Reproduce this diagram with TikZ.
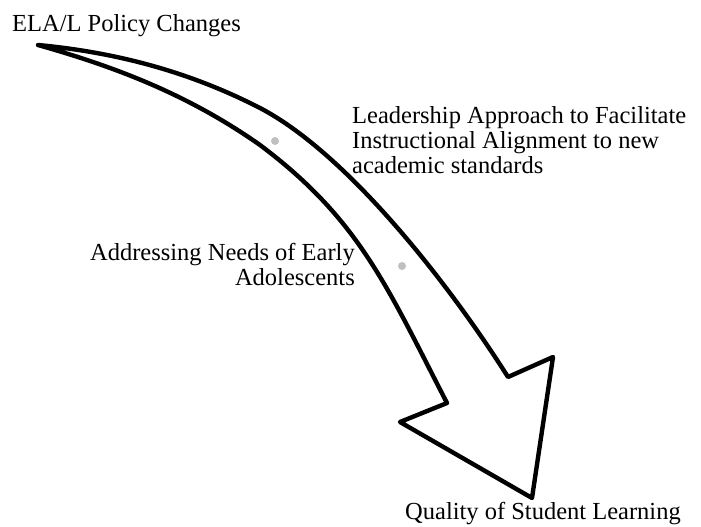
\documentclass[tikz,border=0pt]{standalone}
\usepackage{fontspec}
\setmainfont{Liberation Serif}

\tikzset{
  lbl/.style={inner sep=0pt, font=\fontsize{24.5}{25}\selectfont},
  knob/.style={fill=black!25, draw=none},
}

\begin{document}
\begin{tikzpicture}[x=1pt,y=-1pt]
  \useasboundingbox (0,0) rectangle (701,527);
  % bent arrow
  \draw [black, line width=4.4pt, line join=round, line cap=round, fill=white]
    (38,45) .. controls +(74,7) and +(-74,-38) .. (260,108)
            .. controls +(90,47) and +(-55,-87) .. (508,377)
    -- (553,357) -- (532,498) -- (400,422) -- (447,403)
            .. controls +(-60,-116) and +(100,75) .. (260,145)
            .. controls +(-74,-52) and +(74,21) .. (38,45) -- cycle;
  \fill [knob] (275,141) circle [radius=4];
  \fill [knob] (402,266) circle [radius=4];
  % labels
  \node [lbl, anchor=base west] (policy) at (12,32) {ELA/L Policy Changes};
  \node [lbl, anchor=north west, align=left] (leader) at (352,106)
    {Leadership Approach to Facilitate\\Instructional Alignment to new\\academic standards};
  \node [lbl, anchor=north east, align=right] (needs) at (355,243)
    {Addressing Needs of Early\\Adolescents};
  \node [lbl, anchor=base west] (quality) at (405,519) {Quality of Student Learning};
\end{tikzpicture}
\end{document}
